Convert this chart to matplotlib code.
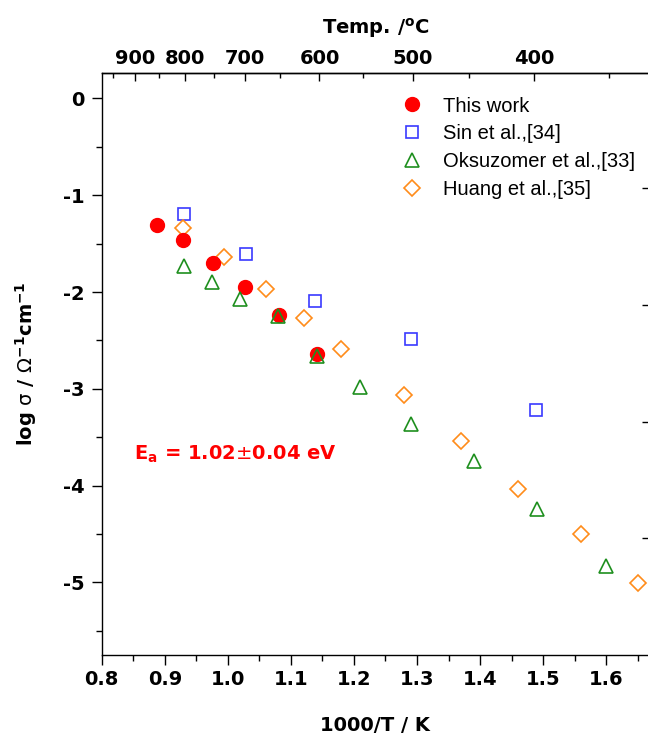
import numpy as np
import matplotlib
matplotlib.use("Agg")
import matplotlib.pyplot as plt
from matplotlib.ticker import MultipleLocator

plt.rcParams['font.family'] = 'DejaVu Sans'
plt.rcParams['mathtext.fontset'] = 'dejavusans'
plt.rcParams['axes.unicode_minus'] = False

# This work
this_x = [0.888, 0.929, 0.977, 1.027, 1.081, 1.141]
this_y = [-1.31, -1.46, -1.705, -1.945, -2.24, -2.636]

# Sin et al. [34]
sin_x = [0.930, 1.029, 1.139, 1.290, 1.489]
sin_y = [-1.195, -1.612, -2.088, -2.49, -3.221]

# Oksuzomer et al. [33]
oks_x = [0.931, 0.975, 1.020, 1.080, 1.141, 1.210, 1.290, 1.390, 1.491, 1.600]
oks_y = [-1.736, -1.894, -2.077, -2.253, -2.66, -2.977, -3.366, -3.75, -4.245, -4.83]

# Huang et al. [35]
huang_x = [0.929, 0.994, 1.060, 1.120, 1.179, 1.280, 1.370, 1.460, 1.560, 1.650]
huang_y = [-1.339, -1.643, -1.964, -2.27, -2.59, -3.06, -3.542, -4.038, -4.504, -5.004]

temp_major = [900, 800, 700, 600, 500, 400]
temp_minor = [950, 850, 750, 650, 550, 450, 350]
right_ticks = [-0.927, -2.136, -3.341, -4.546]

fig = plt.figure(figsize=(6.48, 7.37), dpi=100)
ax = fig.add_axes([0.157, 0.1113, 0.8446, 0.7893])

ax.plot(this_x, this_y, 'o', color='#ff0000', ms=10, mec='#ff0000', zorder=3,
        label='This work')
ax.plot(sin_x, sin_y, 's', mfc='none', mec='#3a3aff', ms=8, mew=1.2,
        label='Sin et al.,[34]')
ax.plot(oks_x, oks_y, '^', mfc='none', mec='#1e8f1e', ms=10.5, mew=1.2,
        label='Oksuzomer et al.,[33]', zorder=4)
ax.plot(huang_x, huang_y, 'D', mfc='none', mec='#ff8c1a', ms=8.3, mew=1.2,
        label='Huang et al.,[35]')

ax.set_xlim(0.8, 1.668)
ax.set_ylim(-5.75, 0.26)
ax.xaxis.set_major_locator(MultipleLocator(0.1))
ax.xaxis.set_minor_locator(MultipleLocator(0.05))
ax.yaxis.set_major_locator(MultipleLocator(1))
ax.yaxis.set_minor_locator(MultipleLocator(0.5))
ax.xaxis.set_major_formatter(matplotlib.ticker.FormatStrFormatter('%.1f'))
ax.yaxis.set_major_formatter(matplotlib.ticker.FormatStrFormatter('%d'))

for s in ax.spines.values():
    s.set_linewidth(1.0)

ax.tick_params(axis='both', which='both', top=False, right=False, direction='out',
               width=1.0, labelsize=14)
ax.tick_params(axis='both', which='major', length=7)
ax.tick_params(axis='both', which='minor', length=4)
ax.tick_params(axis='x', pad=4)
ax.tick_params(axis='y', pad=5.5)
for lab in ax.get_xticklabels() + ax.get_yticklabels():
    lab.set_fontweight('bold')

# top temperature axis
def to_temp(x):
    x = np.asarray(x, dtype=float)
    with np.errstate(divide='ignore'):
        return 1000.0 / x - 273.15

def from_temp(t):
    t = np.asarray(t, dtype=float)
    with np.errstate(divide='ignore'):
        return 1000.0 / (t + 273.15)

secx = ax.secondary_xaxis('top', functions=(to_temp, from_temp))
secx.set_xticks(temp_major)
secx.set_xticks(temp_minor, minor=True)
secx.set_xticklabels([str(t) for t in temp_major], fontweight='bold', fontsize=14)
secx.tick_params(which='both', direction='in', width=1.0, pad=3.5)
secx.tick_params(which='major', length=6)
secx.tick_params(which='minor', length=3.5)
secx.spines['top'].set_linewidth(1.0)
ax.text(0.5, 1.068, r'Temp. /$^{\mathbf{o}}$C', transform=ax.transAxes,
        ha='center', va='baseline', fontsize=14, fontweight='bold')

secy = ax.secondary_yaxis('right')
secy.set_yticks(right_ticks)
secy.set_yticklabels([''] * len(right_ticks))
secy.tick_params(direction='in', length=5, width=1.0)
secy.spines['right'].set_linewidth(1.0)

ax.set_xlabel('1000/T / K', fontsize=14, fontweight='bold')
ax.xaxis.set_label_coords(0.5, -0.105)
ax.set_ylabel(r'log $\mathrm{\sigma}$ / $\mathrm{\Omega}^{\mathbf{-1}}$cm$^{\mathbf{-1}}$',
              fontsize=14, fontweight='bold')
ax.yaxis.set_label_coords(-0.115, 0.5)

ax.text(0.851, -3.675, r'E$_{\mathbf{a}}$ = 1.02$\pm$0.04 eV', color='#ff0000',
        fontsize=14, fontweight='bold', ha='left', va='center')

ax.legend(loc='upper left', bbox_to_anchor=(0.548, 0.960), frameon=False,
          numpoints=1, handlelength=1.0, handletextpad=1.05, labelspacing=0.44,
          borderpad=0, borderaxespad=0,
          prop={'family': 'Liberation Sans', 'size': 14.5})

fig.savefig('out.png', dpi=100)
